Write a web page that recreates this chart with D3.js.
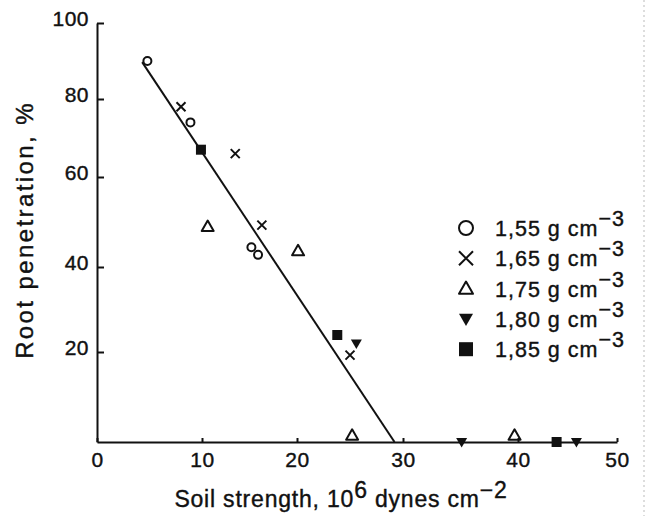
<!DOCTYPE html>
<html>
<head>
<meta charset="utf-8">
<title>Root penetration vs soil strength</title>
<style>
  body { margin: 0; background: #fff; }
  svg { display: block; font-family: 'Liberation Sans', Arial, sans-serif; }
  svg text { stroke: #111; stroke-width: 0.4px; }
  .axis path, .axis line { stroke: #111; stroke-width: 2px; }
  .axis text { font-family: 'Liberation Sans', Arial, sans-serif; font-size: 21px; letter-spacing: 0.5px; fill: #111; }
  .lbl { font-size: 21.5px; letter-spacing: 1px; fill: #111; white-space: pre; }
  .xtitle { font-size: 23px; letter-spacing: 0.8px; fill: #111; white-space: pre; }
  .ytitle { font-size: 24px; letter-spacing: 2.4px; fill: #111; }
  .fit { stroke: #111; stroke-width: 2px; }
</style>
</head>
<body>
<script src="https://d3js.org/d3.v7.min.js"></script>
<script>
// values
var xTicks = [0, 10, 20, 30, 40, 50];
var yTicks = [20, 40, 60, 80, 100];

// soil strength (10^6 dynes cm-2) and root penetration (%) per bulk density
var strength155 = [4.8, 8.9, 15.2, 15.9];
var pen155      = [90, 74, 44.4, 42.7];
var strength165 = [8.0, 13.5, 16.3, 25.0];
var pen165      = [78, 66, 49.3, 19.3];
var strength175 = [10.6, 20.1, 25.2, 39.7];
var pen175      = [49, 43.6, 1.5, 1.5];
var strength180 = [25.6, 35.1, 45.9];
var pen180      = [22, 0, 0];
var strength185 = [9.9, 23.8, 43.9];
var pen185      = [67, 24, 0];

// fitted line end points
var lineStrength = [4.3, 29.2];
var linePen      = [89.7, 0];

var densities = ["1,55", "1,65", "1,75", "1,80", "1,85"];
var kinds     = ["circle", "cross", "triangle", "down", "square"];

var width = 646, height = 516;

var svg = d3.select("body").append("svg")
    .attr("width", width)
    .attr("height", height);

// the scanned axes are slightly uneven, so the scales follow each tick
var x = d3.scaleLinear().domain(xTicks).range([97, 202, 297, 403, 518, 617]);
var y = d3.scaleLinear().domain([0].concat(yTicks)).range([442, 352, 267, 177, 99, 23]);

svg.append("g")
    .attr("class", "axis")
    .attr("transform", "translate(0," + y(0) + ")")
    .call(d3.axisBottom(x).tickValues(xTicks).tickSizeInner(-4).tickSizeOuter(0).tickPadding(10));

var yAxis = svg.append("g")
    .attr("class", "axis")
    .attr("transform", "translate(" + x(0) + ",0)")
    .call(d3.axisLeft(y).tickValues(yTicks).tickSizeInner(-7).tickSizeOuter(0).tickPadding(8));
yAxis.selectAll("text").attr("dy", "0.1em");

// fitted line
svg.append("line")
    .attr("class", "fit")
    .attr("x1", x(lineStrength[0])).attr("y1", y(linePen[0]))
    .attr("x2", x(lineStrength[1])).attr("y2", y(linePen[1]));

function marker(g, kind, s) {
  var h = s / 2;
  if (kind == "circle")
    g.append("circle").attr("r", h).attr("fill", "none").attr("stroke", "#111").attr("stroke-width", 2);
  if (kind == "cross")
    g.append("path").attr("d", "M" + (-h) + "," + (-h) + "L" + h + "," + h + "M" + (-h) + "," + h + "L" + h + "," + (-h))
      .attr("stroke", "#111").attr("stroke-width", 2);
  if (kind == "triangle")
    g.append("path").attr("d", "M0," + (-h) + "L" + h + "," + (h * 0.75) + "L" + (-h) + "," + (h * 0.75) + "Z")
      .attr("fill", "none").attr("stroke", "#111").attr("stroke-width", 2).attr("stroke-linejoin", "round");
  if (kind == "down")
    g.append("path").attr("d", "M" + (-h) + "," + (-h * 0.75) + "L" + h + "," + (-h * 0.75) + "L0," + h + "Z")
      .attr("fill", "#111");
  if (kind == "square")
    g.append("rect").attr("x", -h).attr("y", -h).attr("width", s).attr("height", s).attr("fill", "#111");
}

var groups = [
  [strength155, pen155], [strength165, pen165], [strength175, pen175],
  [strength180, pen180], [strength185, pen185]
];
var plotSize = [8, 9, 12, 11, 10];

groups.forEach(function(gr, k) {
  gr[0].forEach(function(v, i) {
    var g = svg.append("g")
        .attr("transform", "translate(" + x(v) + "," + y(gr[1][i]) + ")");
    marker(g, kinds[k], plotSize[k]);
  });
});

// legend
var legend = svg.append("g").attr("transform", "translate(466,228)");
densities.forEach(function(d, i) {
  var row = legend.append("g").attr("transform", "translate(0," + (i * 30.3) + ")");
  marker(row, kinds[i], 14);
  var t = row.append("text").attr("class", "lbl").attr("x", 29).attr("y", 8);
  t.append("tspan").text(d + " g cm");
  t.append("tspan").attr("dy", -10).text("\u22123");
});

// axis titles
var xt = svg.append("text").attr("class", "xtitle")
    .attr("x", 341).attr("y", 507).attr("text-anchor", "middle");
xt.append("tspan").text("Soil strength, 10");
xt.append("tspan").attr("dy", -9).text("6");
xt.append("tspan").attr("dy", 9).text(" dynes cm");
xt.append("tspan").attr("dy", -9).text("\u22122");

svg.append("text").attr("class", "ytitle")
    .attr("transform", "translate(25,230) rotate(-90)")
    .attr("dy", "0.35em")
    .attr("text-anchor", "middle")
    .text("Root penetration, %");

// faint scan edge at the right
svg.append("line")
    .attr("x1", 644).attr("x2", 644).attr("y1", 0).attr("y2", height)
    .attr("stroke", "#bbb").attr("stroke-dasharray", "2,3");
</script>
</body>
</html>
